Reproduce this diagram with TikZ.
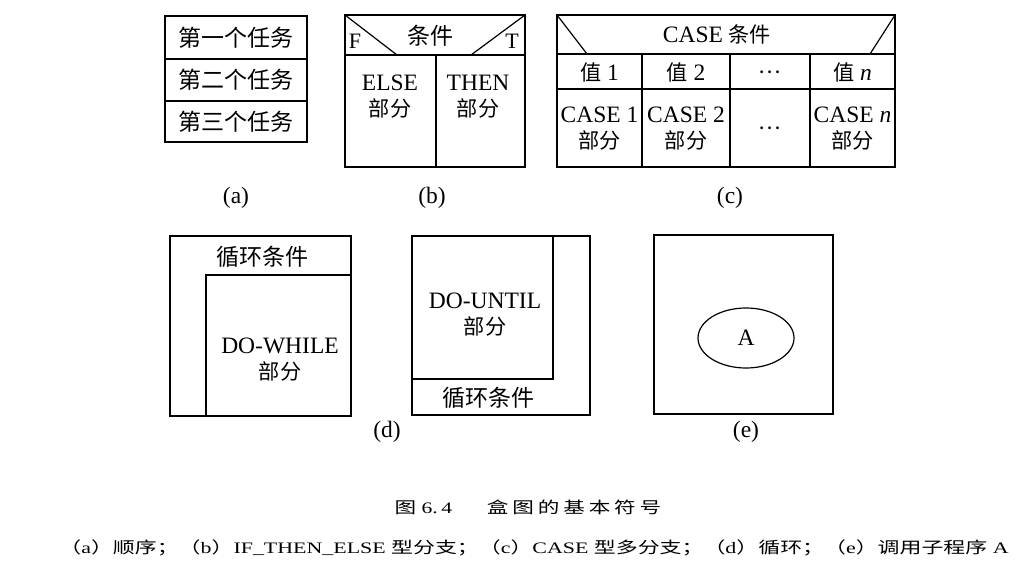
\documentclass[tikz,border=0pt]{standalone}
\usepackage{fontspec}
\usepackage{graphicx}
\setmainfont{Liberation Serif}
\newfontfamily\cjk[Scale=0.9]{Noto Sans CJK SC}
\newfontfamily\cjkfull{Noto Sans CJK SC}
\newfontfamily\cjkwide[LetterSpace=18]{Noto Sans CJK SC}
\newcommand{\zhtxt}[1]{{\cjk #1}}
\newcommand{\zhcap}[1]{{\cjkfull #1}}
\usetikzlibrary{shapes.geometric}

\tikzset{
  box/.style={draw, line width=1.2pt},
  lbl/.style={font=\fontsize{23.5}{26}\selectfont, align=center, inner sep=0pt},
  zh/.style={lbl, font=\fontsize{23}{26}\selectfont\cjkfull},
  corner/.style={font=\fontsize{22}{24}\selectfont, inner sep=0pt},
  caption/.style={font=\fontsize{16}{18}\selectfont, inner sep=0pt},
}

\begin{document}
\begin{tikzpicture}[x=1pt, y=-1pt]
  \useasboundingbox (0,0) rectangle (1032,586);

  % --- (a) sequence: three stacked tasks ---
  \draw[box] (165,16) rectangle (307,142);
  \foreach \y in {59, 101} {
    \draw[box] (165,\y) -- (307,\y);
  }
  \foreach \i/\y/\t in {1/37.5/第一个任务, 2/80/第二个任务, 3/121.5/第三个任务} {
    \node[zh] (seq\i) at (236,\y) {\t};
  }
  \node[lbl] (capA) at (236,198) {(a)};

  % --- (b) if-then-else ---
  \draw[box] (345,15) rectangle (525,167);
  \draw[box] (345,55) -- (525,55);
  \draw[box] (436,55) -- (436,167);
  \draw[box] (345,15) -- (397,55);
  \draw[box] (525,15) -- (471,55);
  \node[zh] (ifcond) at (430,36) {条件};
  \node[corner] (ifF) at (355,41) {F};
  \node[corner] (ifT) at (512,41) {T};
  \node[lbl] (ifelse) at (390,97) {ELSE\\\zhtxt{部分}};
  \node[lbl] (ifthen) at (478,97) {THEN\\\zhtxt{部分}};
  \node[lbl] (capB) at (432,198) {(b)};

  % --- (c) case: header, value row, part row ---
  \draw[box] (557,15) rectangle (895,167);
  \foreach \y in {54, 89} {
    \draw[box] (557,\y) -- (895,\y);
  }
  \foreach \x in {642, 730, 810} {
    \draw[box] (\x,54) -- (\x,167);
  }
  \draw[box] (557,15) -- (587,54);
  \draw[box] (895,15) -- (870,54);
  \node[lbl] (casecond) at (717,34) {CASE \zhtxt{条件}};
  \node[lbl] (val1) at (599.5,72) {\zhtxt{值} 1};
  \node[lbl] (val2) at (686,72) {\zhtxt{值} 2};
  \node[lbl] (valdots) at (770,72) {\zhtxt{…}};
  \node[lbl] (valn) at (852.5,72) {\zhtxt{值} \textit{n}};
  \node[lbl] (part1) at (599.5,129) {CASE 1\\\zhtxt{部分}};
  \node[lbl] (part2) at (686,129) {CASE 2\\\zhtxt{部分}};
  \node[lbl] (partdots) at (770,128) {\zhtxt{…}};
  \node[lbl] (partn) at (852.5,129) {CASE \textit{n}\\\zhtxt{部分}};
  \node[lbl] (capC) at (730,198) {(c)};

  % --- (d) loops: do-while (left) and do-until (right) ---
  \draw[box] (170,236) rectangle (351,416);
  \draw[box] (206,416) -- (206,275) -- (351,275);
  \node[zh] (whilecond) at (262,257) {循环条件};
  \node[lbl] (whilebody) at (280,360) {DO-WHILE\\\zhtxt{部分}};

  \draw[box] (412,236) rectangle (590,415);
  \draw[box] (412,379) -- (553,379) -- (553,236);
  \node[lbl] (untilbody) at (485,315) {DO-UNTIL\\\zhtxt{部分}};
  \node[zh] (untilcond) at (488,398) {循环条件};
  \node[lbl] (capD) at (387,432) {(d)};

  % --- (e) call of subprogram A ---
  \draw[box] (654,235) rectangle (833,414);
  \node[lbl, box, ellipse, minimum width=96pt, minimum height=60pt] (callA) at (746,338) {A};
  \node[lbl] (capE) at (746,432) {(e)};

  % --- figure caption ---
  \node[caption] (figtitle) at (528,507)
    {\scalebox{1.35}[1]{{\cjkwide 图} 6.\,4\hspace{1.6em}{\cjkwide 盒图的基本符号}}};
  \node[caption] (figlegend) at (534,548)
    {\scalebox{1.37}[1]{\zhcap{（}a\zhcap{）顺序；（}b\zhcap{）}IF\_THEN\_ELSE \zhcap{型分支；（}c\zhcap{）}CASE \zhcap{型多分支；（}d\zhcap{）循环；（}e\zhcap{）调用子程序} A}};

\end{tikzpicture}
\end{document}
